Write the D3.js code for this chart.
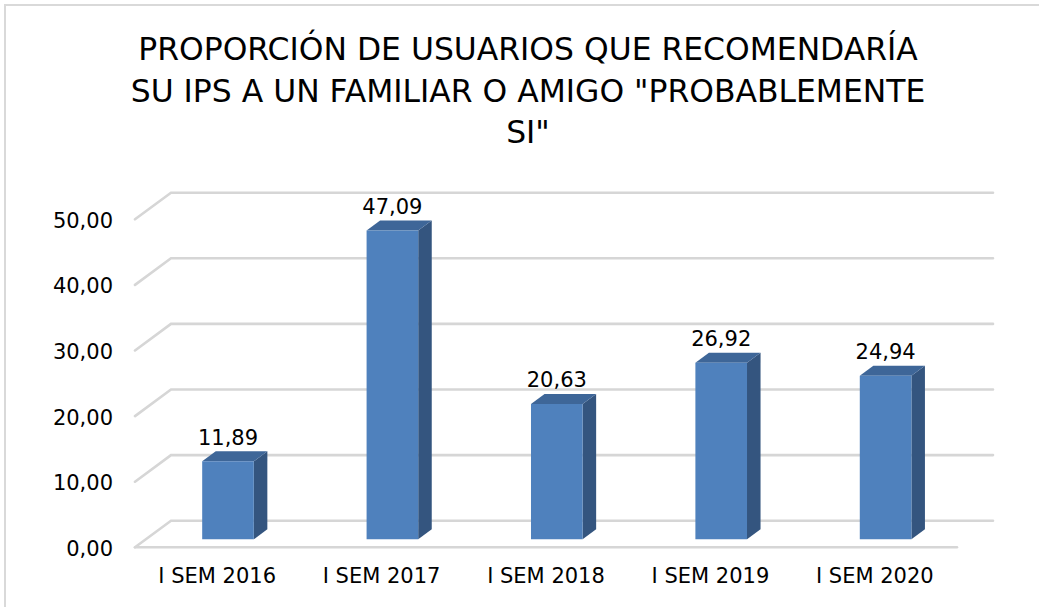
<!doctype html>
<html>
  <head>
    <script src="https://cdnjs.cloudflare.com/ajax/libs/d3/7.8.5/d3.min.js"></script>
    <style>
      body { margin: 0; background: #fff; }
      svg { display: block; font-family: "DejaVu Sans", sans-serif; }
      .grid { stroke: #d6d6d6; stroke-width: 2.6; fill: none; stroke-linecap: round; }
      .tick-label { font-size: 21px; fill: #000; }
      .title { font-size: 31.4px; fill: #000; text-anchor: middle; }
    </style>
  </head>
  <body>
    <svg id="chart" width="1039" height="607"></svg>
    <script>
      // data
      var categories = ["I SEM 2016", "I SEM 2017", "I SEM 2018", "I SEM 2019", "I SEM 2020"];
      var values = [11.89, 47.09, 20.63, 26.92, 24.94];
      var yTicks = [0, 10, 20, 30, 40, 50];
      var titleLines = ["PROPORCIÓN DE USUARIOS QUE RECOMENDARÍA", "SU IPS A UN FAMILIAR O AMIGO \"PROBABLEMENTE", "SI\""];

      var svg = d3.select("#chart");

      // chart border (only top and left edges show in the frame)
      svg.append("rect")
        .attr("x", 5).attr("y", 5)
        .attr("width", 1100).attr("height", 700)
        .attr("fill", "none").attr("stroke", "#d9d9d9").attr("stroke-width", 2);

      // title
      svg.selectAll("text.title")
        .data(titleLines)
        .enter().append("text")
          .attr("class", "title")
          .attr("x", 528)
          .attr("y", (d, i) => 60 + i * 41.7)
          .text(d => d);

      // oblique 3d: depth z from 0 (front) to 1 (back wall)
      var depthX = 36, depthY = -26.6;
      var x = d3.scaleBand().domain(categories).range([135, 957]).padding(0);
      var y = d3.scaleLinear().domain([0, 50]).range([547.3, 219.3]);

      function pt(px, v, z) {
        return [px + z * depthX, y(v) + z * depthY];
      }

      var fmt = d3.formatLocale({ decimal: ",", thousands: ".", grouping: [3], currency: ["", ""] }).format(".2f");

      // gridlines: left wall diagonal + back wall horizontal
      var x0 = x.range()[0], x1 = x.range()[1];
      var line = d3.line();
      yTicks.forEach(v => {
        svg.append("path").attr("class", "grid")
          .attr("d", line([pt(x0, v, 0), pt(x0, v, 1), pt(x1, v, 1)]));
      });
      // floor front edge
      svg.append("path").attr("class", "grid")
        .attr("d", line([pt(x0, 0, 0), pt(x1, 0, 0)]));

      // y labels
      svg.selectAll("text.ylab")
        .data(yTicks)
        .enter().append("text")
          .attr("class", "tick-label ylab")
          .attr("x", 113)
          .attr("y", d => y(d) + 8.5)
          .attr("text-anchor", "end")
          .text(d => fmt(d));

      // x labels
      svg.selectAll("text.xlab")
        .data(categories)
        .enter().append("text")
          .attr("class", "tick-label xlab")
          .attr("x", d => x(d) + x.bandwidth() / 2)
          .attr("y", 582.7)
          .attr("text-anchor", "middle")
          .text(d => d);

      // bars
      var zFront = 0.30, zBack = 0.676;
      var barW = x.bandwidth() * 0.314;
      var bars = svg.selectAll("g.bar")
        .data(categories.map((c, i) => ({ cat: c, val: values[i] })))
        .enter().append("g").attr("class", "bar");

      function poly(pts) { return "M" + pts.map(p => p.join(",")).join("L") + "Z"; }

      bars.each(function(d) {
        var g = d3.select(this);
        var l = x(d.cat) + x.bandwidth() / 2 - barW / 2, r = l + barW;
        // side face
        g.append("path").attr("fill", "#34557f")
          .attr("d", poly([pt(r, 0, zFront), pt(r, 0, zBack), pt(r, d.val, zBack), pt(r, d.val, zFront)]));
        // top face
        g.append("path").attr("fill", "#3e6698")
          .attr("d", poly([pt(l, d.val, zFront), pt(l, d.val, zBack), pt(r, d.val, zBack), pt(r, d.val, zFront)]));
        // front face
        g.append("path").attr("fill", "#4f81bd")
          .attr("d", poly([pt(l, 0, zFront), pt(r, 0, zFront), pt(r, d.val, zFront), pt(l, d.val, zFront)]));
        // value label
        var top = pt((l + r) / 2, d.val, zBack);
        g.append("text").attr("class", "tick-label")
          .attr("x", pt((l + r) / 2, d.val, zFront)[0])
          .attr("y", top[1] - 6.7)
          .attr("text-anchor", "middle")
          .text(fmt(d.val));
      });
    </script>
  </body>
</html>
